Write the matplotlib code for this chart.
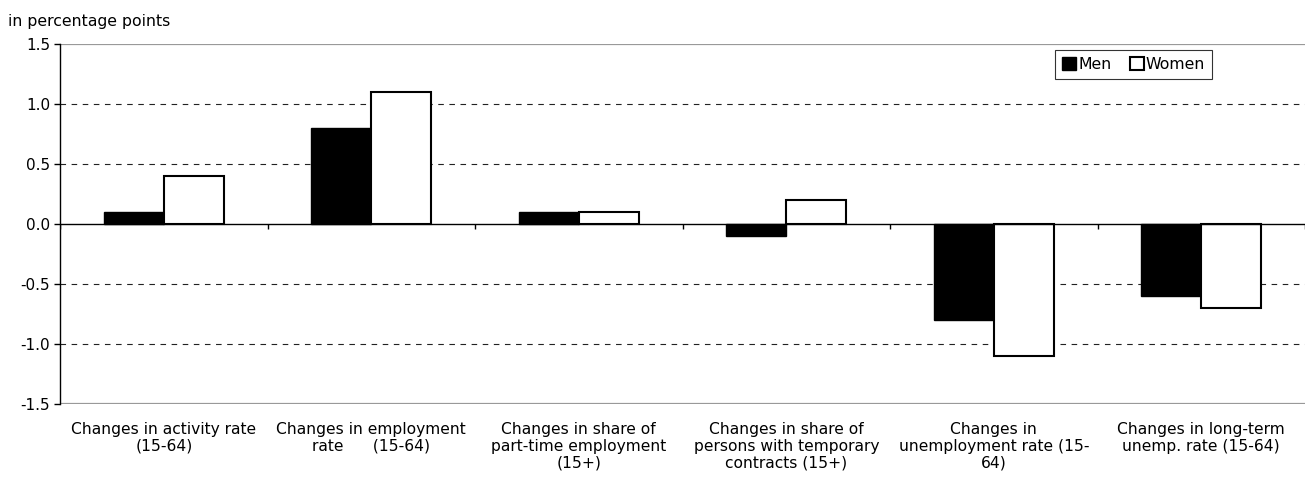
import numpy as np
import matplotlib.pyplot as plt

plt.rcParams['font.family'] = ['DejaVu Sans']

categories = ["Changes in activity rate\n(15-64)",
              "Changes in employment\nrate      (15-64)",
              "Changes in share of\npart-time employment\n(15+)",
              "Changes in share of\npersons with temporary\ncontracts (15+)",
              "Changes in\nunemployment rate (15-\n64)",
              "Changes in long-term\nunemp. rate (15-64)"]
men = [0.1, 0.8, 0.1, -0.1, -0.8, -0.6]
women = [0.4, 1.1, 0.1, 0.2, -1.1, -0.7]
yticks = [-1.5, -1.0, -0.5, 0.0, 0.5, 1.0, 1.5]

fig = plt.figure(figsize=(13.05, 4.87), dpi=100)
ax = fig.add_axes([0.046, 0.1704, 0.954, 0.7393])

x = np.arange(len(categories))
w = 0.29
ax.bar(x - w / 2, men, w, color='black', edgecolor='black', linewidth=1, label='Men', zorder=3)
ax.bar(x + w / 2, women, w, color='white', edgecolor='black', linewidth=1.5, label='Women', zorder=3)

ax.set_xlim(-0.5, len(categories) - 0.5)
ax.set_ylim(-1.5, 1.5)

# gridlines
for v in yticks:
    if v in (-1.5, 1.5):
        ax.axhline(v, color='#999999', linewidth=1.6, zorder=1)
    elif v != 0:
        ax.axhline(v, color='#222222', linewidth=0.8, linestyle=(0, (5, 5)), zorder=1)

# zero line with category tick marks
ax.axhline(0, color='black', linewidth=1, zorder=4)
ax.vlines(np.arange(len(categories) + 1) - 0.5, -0.045, 0, color='black', linewidth=1, zorder=4)

for s in ['top', 'right', 'bottom']:
    ax.spines[s].set_visible(False)
ax.spines['left'].set_linewidth(1)

ax.set_yticks(yticks)
ax.set_yticklabels(['%.1f' % v for v in yticks], fontsize=11)
ax.tick_params(axis='y', length=4, width=1, pad=3)
ax.set_xticks(x)
ax.set_xticklabels(categories, fontsize=11.2, linespacing=1.15)
ax.tick_params(axis='x', length=0, pad=13)

fig.text(0.006, 0.955, 'in percentage points', fontsize=11.3, va='center', ha='left')

leg = ax.legend(loc='upper right', bbox_to_anchor=(0.9255, 0.983), ncol=2, fontsize=11.3,
                frameon=True, fancybox=False, edgecolor='black', handlelength=0.9,
                handleheight=0.9, handletextpad=0.1, columnspacing=1.2, borderpad=0.45,
                borderaxespad=0)
leg.get_frame().set_linewidth(0.8)

fig.savefig('out.png', dpi=100)
